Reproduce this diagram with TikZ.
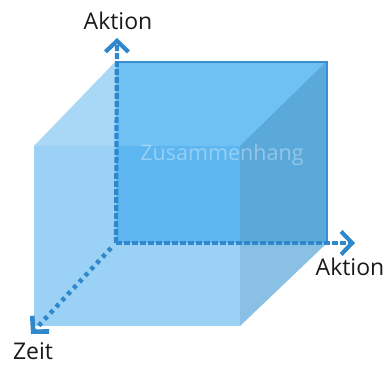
\documentclass[tikz,border=0pt]{standalone}
\usepackage{fontspec}
\setmainfont{Open Sans}
\usetikzlibrary{arrows.meta}
\definecolor{cTopLeft}{HTML}{A9D8F6}
\definecolor{cFront}{HTML}{9AD1F5}
\definecolor{cBack}{HTML}{6EC1F2}
\definecolor{cOverlap}{HTML}{5EB6F0}
\definecolor{cRight}{HTML}{5BA8DA}
\definecolor{cRightLow}{HTML}{8BC0E5}
\definecolor{cEdge}{HTML}{3C8ED2}
\definecolor{cAxis}{HTML}{2F88CC}
\definecolor{cText}{HTML}{1A1A1A}
\tikzset{
  axisline/.style={draw=cAxis, line width=4.2pt, dash pattern=on 6pt off 2pt,
    -{Straight Barb[length=11pt,width=23pt]}},
  dotline/.style={draw=cAxis, line width=4.6pt, dash pattern=on 4pt off 4.5pt,
    -{Straight Barb[length=11pt,width=23pt]}},
  lbl/.style={font=\fontsize{23}{26}\selectfont, text=cText, inner sep=0pt}
}
\begin{document}
\begin{tikzpicture}[x=1pt,y=-1pt]
\useasboundingbox (0,0) rectangle (388,365);
\fill[white] (0,0) rectangle (388,365);
% faces
\fill[cFront] (34,146) -- (240,146) -- (240,326) -- (34,326) -- cycle;
\fill[cTopLeft] (34,146) -- (116,61) -- (116,146) -- cycle;
\fill[cBack] (116,61) -- (327,61) -- (327,243) -- (116,243) -- cycle;
\fill[cOverlap] (116,146) -- (240,146) -- (240,243) -- (116,243) -- cycle;
\fill[cRight] (240,146) -- (327,61) -- (327,243) -- (240,243) -- cycle;
\fill[cRightLow] (240,243) -- (327,243) -- (240,326) -- cycle;
% back face outline
\draw[cEdge, line width=2.6pt] (116,62) -- (327,62) -- (327,243);
% coordinates
\coordinate (O) at (116,243);
\coordinate (up) at (117,38);
\coordinate (right) at (355,243);
\coordinate (zeit) at (31,334);
% axes
\draw[axisline] (O) -- (up);
\draw[axisline] (O) -- (right);
\draw[dotline] ([shift={(-5,5)}]O) -- (zeit);
% labels
\node[lbl] (aktionTop) at (118,21) {Aktion};
\node[lbl] (aktionRight) at (350,267) {Aktion};
\node[lbl] (zeitLbl) at (33,351) {Zeit};
\node[font=\fontsize{21.5}{24}\selectfont, text=white, text opacity=0.35, inner sep=0pt] (zus) at (222,155) {Zusammenhang};
\end{tikzpicture}
\end{document}
